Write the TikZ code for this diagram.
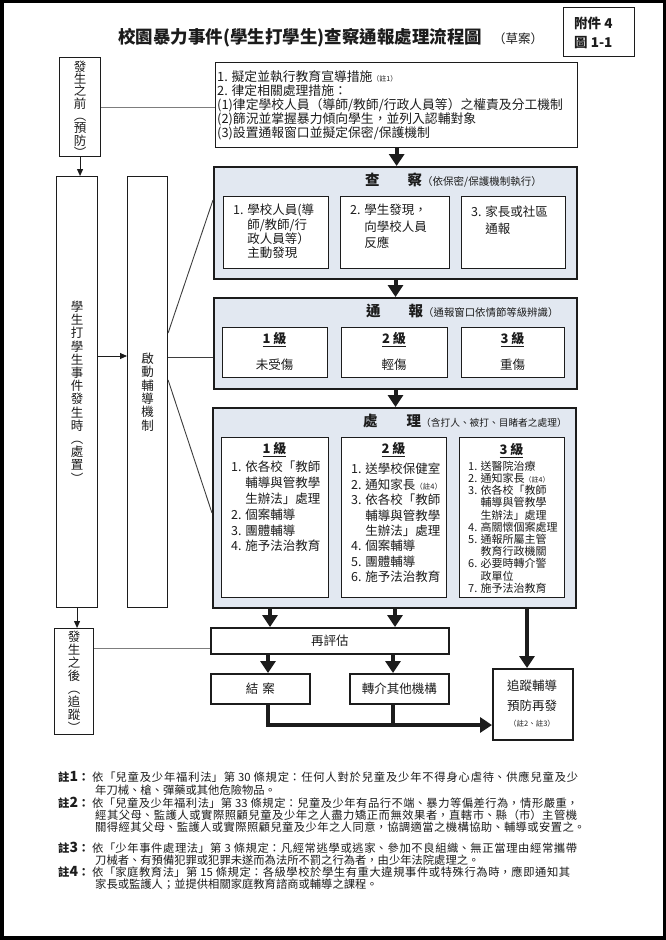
\documentclass[tikz,border=0pt]{standalone}
\usepackage{fontspec}
\setmainfont{Noto Sans CJK TC}
\usetikzlibrary{arrows.meta}
\lineskiplimit=-20pt
\definecolor{ink}{RGB}{28,28,28}
\definecolor{shade}{RGB}{226,232,241}
\definecolor{grayline}{RGB}{125,125,125}
\newcommand\mkbox[6]{\node[#2,anchor=north west,minimum width={#5pt-#3pt},minimum height={#6pt-#4pt},inner sep=0pt] (#1) at (#3,#4) {};}
\newcommand\nline[2]{\parbox{#1pt}{\XeTeXlinebreaklocale "zh"\XeTeXlinebreakskip=0pt plus 4pt\relax\parfillskip=0pt\noindent #2}}
\newcommand\nsp{\hspace{3pt}}
\newcommand\fs[2]{\fontsize{#1}{#2}\selectfont}
\tikzset{
  frame/.style={draw=ink,line width=1.3pt,fill=white},
  shadebox/.style={draw=ink,line width=2pt,fill=shade},
  inbox/.style={draw=ink,line width=1.3pt,fill=white},
  sidebox/.style={draw=ink,line width=1.1pt,fill=white},
  heavybox/.style={draw=ink,line width=1.8pt,fill=white},
  bigarrow/.style={draw=ink,line width=4pt,-{Triangle[width=15pt,length=12pt]}},
  heavyline/.style={draw=ink,line width=4pt},
  thinarrow/.style={draw=ink,line width=0.9pt,-{Triangle[width=6pt,length=7pt]}},
  thinline/.style={draw=ink!85,line width=0.9pt},
  grayconn/.style={draw=grayline,line width=1pt},
  txt/.style={inner sep=0pt,text=ink,font=\fs{12.5}{15}},
  vtxt/.style={txt,align=center},
  para/.style={txt,anchor=north west,align=left},
  lvl/.style={txt,font=\fs{13}{14}\bfseries},
  sectitle/.style={txt,anchor=west},
  notelab/.style={txt,anchor=west,font=\fs{11.3}{12}\bfseries},
  notetxt/.style={txt,anchor=west,font=\fs{11.3}{12}},
}
\begin{document}
\begin{tikzpicture}[x=1pt,y=-1pt]
\useasboundingbox (0,0) rectangle (666,940);
\fill[black] (0,0) rectangle (666,940);
\fill[white] (4,3) rectangle (663,936);

% title
\node[txt,anchor=west,font=\fs{17.5}{20}\bfseries] (title) at (118,38) {校園暴力事件(學生打學生)查察通報處理流程圖};
\node[txt,anchor=west,font=\fs{12.5}{14}] (draft) at (493,39) {（草案）};
\mkbox{att}{sidebox}{563}{7}{634}{56}
\node[txt,anchor=north west,align=left,font=\fs{13.5}{19}\bfseries] (atttext) at (574,16.5) {附件 4\\圖 1-1};

% left column
\mkbox{pre}{sidebox}{59}{57}{100}{156}
\node[vtxt,font=\fs{12.5}{12.3},yshift=-2pt] (pretext) at (pre) {發\\生\\之\\前\\︵\\預\\防\\︶};
\mkbox{during}{sidebox}{56}{176}{97}{607}
\node[vtxt,font=\fs{12.5}{13.2}] (duringtext) at (during) {學\\生\\打\\學\\生\\事\\件\\發\\生\\時\\︵\\處\\置\\︶};
\mkbox{guide}{sidebox}{127}{176}{167}{607}
\node[vtxt,font=\fs{12.5}{13.4}] (guidetext) at (guide) {啟\\動\\輔\\導\\機\\制};
\mkbox{after}{sidebox}{54}{628}{93}{734}
\node[vtxt,font=\fs{12.5}{13}] (aftertext) at (after) {發\\生\\之\\後\\︵\\追\\蹤\\︶};

% prevention box
\mkbox{prevbox}{frame}{215}{62}{577}{147}
\node[para,font=\fs{12.8}{14}] (prevtext) at (217,70.5) {1. 擬定並執行教育宣導措施{\fs{7}{7}（註1）}\\2. 律定相關處理措施：\\(1)律定學校人員（導師/教師/行政人員等）之權責及分工機制\\(2)篩況並掌握暴力傾向學生，並列入認輔對象\\(3)設置通報窗口並擬定保密/保護機制};

% check
\mkbox{check}{shadebox}{213}{166}{576}{278}
\node[sectitle] (checktitle) at (365,180) {{\bfseries\fs{14.5}{16}查\hspace{28pt}察}{\fs{10.5}{12}（依保密/保護機制執行）}};
\mkbox{chk1}{inbox}{223}{196}{328}{268}
\mkbox{chk2}{inbox}{340}{196}{449}{268}
\mkbox{chk3}{inbox}{461}{196}{565}{268}
\node[para,font=\fs{12.5}{14.4}] (chk1text) at (233,204) {1. 學校人員(導\\\phantom{1. }師/教師/行\\\phantom{1. }政人員等）\\\phantom{1. }主動發現};
\node[para,font=\fs{12.5}{16.5}] (chk2text) at (350,204) {2. 學生發現，\\\phantom{2. }向學校人員\\\phantom{2. }反應};
\node[para,font=\fs{12.5}{17}] (chk3text) at (471,206) {3. 家長或社區\\\phantom{3. }通報};

% report
\mkbox{report}{shadebox}{213}{297}{576}{388}
\node[sectitle] (reporttitle) at (366,311) {{\bfseries\fs{14.5}{16}通\hspace{28pt}報}{\fs{10.4}{12}（通報窗口依情節等級辨識）}};
\mkbox{rep1}{inbox}{222}{327}{327}{377}
\mkbox{rep2}{inbox}{341}{327}{447}{377}
\mkbox{rep3}{inbox}{461}{327}{564}{377}
\node[lvl] (rep1lvl) at (274.5,340) {\underline{1 級}};
\node[lvl] (rep2lvl) at (394,340) {\underline{2 級}};
\node[lvl] (rep3lvl) at (512.5,340) {\underline{3 級}};
\node[txt] (rep1txt) at (274.5,365) {未受傷};
\node[txt] (rep2txt) at (394,365) {輕傷};
\node[txt] (rep3txt) at (512.5,365) {重傷};

% handle
\mkbox{handle}{shadebox}{212}{407}{575}{607}
\node[sectitle] (handletitle) at (363,421) {{\bfseries\fs{14.5}{16}處\hspace{29pt}理}{\fs{9.7}{12}（含打人、被打、目睹者之處理）}};
\mkbox{hd1}{inbox}{221}{437}{328}{597}
\mkbox{hd2}{inbox}{341}{437}{446}{597}
\mkbox{hd3}{inbox}{459}{437}{564}{597}
\node[lvl] (hd1lvl) at (274.5,450) {\underline{1 級}};
\node[lvl] (hd2lvl) at (393.5,450) {\underline{2 級}};
\node[lvl] (hd3lvl) at (511.5,451) {\underline{3 級}};
\node[para,font=\fs{12.5}{15.8}] (hd1text) at (231,461) {1. 依各校「教師\\\phantom{1. }輔導與管教學\\\phantom{1. }生辦法」處理\\2. 個案輔導\\3. 團體輔導\\4. 施予法治教育};
\node[para,font=\fs{12.5}{15.4}] (hd2text) at (351,463) {1. 送學校保健室\\2. 通知家長{\fs{7.5}{8}（註4）}\\3. 依各校「教師\\\phantom{3. }輔導與管教學\\\phantom{3. }生辦法」處理\\4. 個案輔導\\5. 團體輔導\\6. 施予法治教育};
\node[para,font=\fs{11}{12.2}] (hd3text) at (468,460.7) {1. 送醫院治療\\2. 通知家長{\fs{7}{8}（註4）}\\3. 依各校「教師\\\phantom{3. }輔導與管教學\\\phantom{3. }生辦法」處理\\4. 高關懷個案處理\\5. 通報所屬主管\\\phantom{5. }教育行政機關\\6. 必要時轉介警\\\phantom{6. }政單位\\7. 施予法治教育};

% bottom boxes
\mkbox{reeval}{heavybox}{210}{627}{448}{653}
\node[txt] (reevaltext) at (reeval) {再評估};
\mkbox{close}{heavybox}{210}{673}{309}{703}
\node[txt] (closetext) at (close) {結\hspace{4pt}案};
\mkbox{refer}{heavybox}{349}{673}{448}{703}
\node[txt] (refertext) at (refer) {轉介其他機構};
\mkbox{track}{heavybox}{492}{668}{572}{739}
\node[txt] (trk1) at (532,686) {追蹤輔導};
\node[txt] (trk2) at (532,706) {預防再發};
\node[txt,font=\fs{7.5}{8}] (trk3) at (532,724) {（註2、註3）};

% connectors
\coordinate (ga) at (0,356);
\coordinate (g1) at (0,333);
\coordinate (c1) at (0,200);
\coordinate (g2) at (0,357);
\coordinate (g3) at (0,380);
\coordinate (h3) at (0,513);
\coordinate (ra) at (0,648);
\coordinate (xa) at (270,0);
\coordinate (xb) at (395,0);
\coordinate (xc) at (527,0);
\coordinate (xd) at (268,0);
\coordinate (xe) at (393,0);
\coordinate (yl) at (0,725);

\draw[grayconn] (pre.east) -- (pre.east -| prevbox.west);
\draw[thinarrow] (pre.south) -- (pre.south |- during.north);
\draw[thinarrow] (during.east |- ga) -- (guide.west |- ga);
\draw[thinline] (guide.east |- g1) -- (check.west |- c1);
\draw[thinline] (guide.east |- g2) -- (report.west |- g2);
\draw[thinline] (guide.east |- g3) -- (handle.west |- h3);
\draw[thinarrow] (during.south) -- (during.south |- after.north);
\draw[grayconn] (after.east |- ra) -- (reeval.west |- ra);

\draw[bigarrow] (prevbox.south) -- (prevbox.south |- check.north);
\draw[bigarrow] (check.south) -- (check.south |- report.north);
\draw[bigarrow] (report.south) -- (report.south |- handle.north);
\draw[bigarrow] (handle.south -| xa) -- (reeval.north -| xa);
\draw[bigarrow] (handle.south -| xb) -- (reeval.north -| xb);
\draw[bigarrow] (handle.south -| xc) -- (track.north -| xc);
\draw[bigarrow] (reeval.south -| xd) -- (close.north -| xd);
\draw[bigarrow] (reeval.south -| xe) -- (refer.north -| xe);
\draw[bigarrow] (close.south -| xd) -- (xd |- yl) -- (track.west |- yl);
\draw[heavyline] (refer.south -| xe) -- (xe |- yl);

% notes
\node[notelab] (n1lab) at (58,777) {註{\fs{14}{14}1}：};
\node[notelab] (n2lab) at (58,803) {註{\fs{14}{14}2}：};
\node[notelab] (n3lab) at (58,848) {註{\fs{14}{14}3}：};
\node[notelab] (n4lab) at (58,872) {註{\fs{14}{14}4}：};
\node[notetxt] (n1a) at (92,777) {\nline{486}{依「兒童及少年福利法」第\nsp 30\nsp 條規定：任何人對於兒童及少年不得身心虐待、供應兒童及少}};
\node[notetxt] (n1b) at (95,790) {年刀械、槍、彈藥或其他危險物品。};
\node[notetxt] (n2a) at (92,803) {\nline{486}{依「兒童及少年福利法」第\nsp 33\nsp 條規定：兒童及少年有品行不端、暴力等偏差行為，情形嚴重，}};
\node[notetxt] (n2b) at (95,815) {\nline{482}{經其父母、監護人或實際照顧兒童及少年之人盡力矯正而無效果者，直轄市、縣（市）主管機}};
\node[notetxt] (n2c) at (95,827) {\nline{490}{關得經其父母、監護人或實際照顧兒童及少年之人同意，協調適當之機構協助、輔導或安置之。}};
\node[notetxt] (n3a) at (92,848) {\nline{485}{依「少年事件處理法」第\nsp 3\nsp 條規定：凡經常逃學或逃家、參加不良組織、無正當理由經常攜帶}};
\node[notetxt] (n3b) at (95,860) {刀械者、有預備犯罪或犯罪未遂而為法所不罰之行為者，由少年法院處理之。};
\node[notetxt] (n4a) at (92,872) {\nline{478}{依「家庭教育法」第\nsp 15\nsp 條規定：各級學校於學生有重大違規事件或特殊行為時，應即通知其}};
\node[notetxt] (n4b) at (95,884) {家長或監護人；並提供相關家庭教育諮商或輔導之課程。};
\end{tikzpicture}
\end{document}
